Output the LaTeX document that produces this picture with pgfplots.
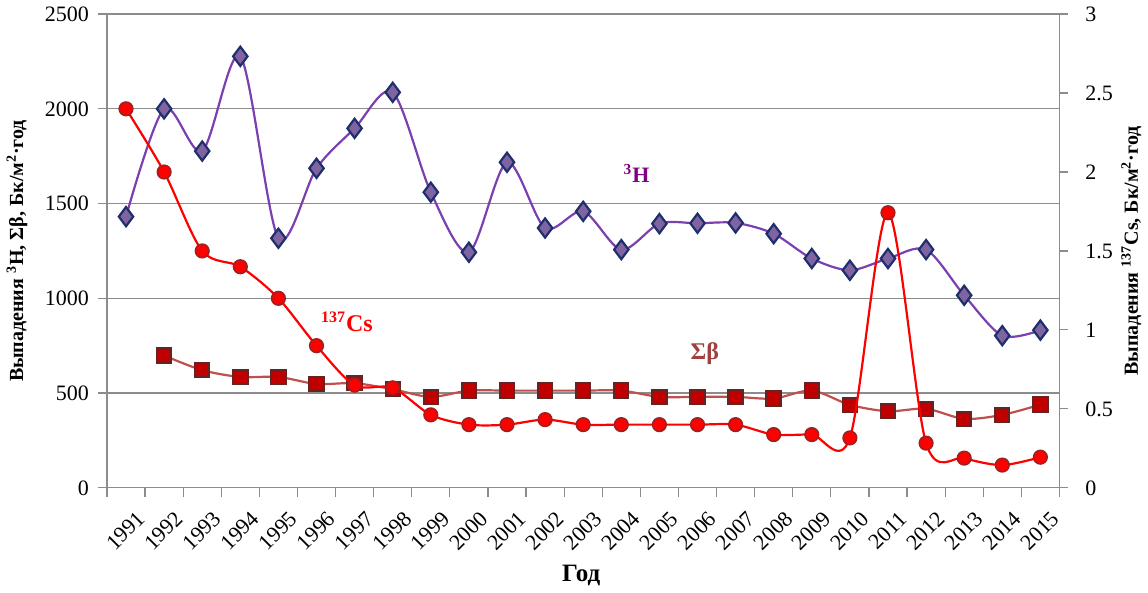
\documentclass[border=0pt]{standalone}
\usepackage{fontspec}
\setmainfont{Liberation Serif}
\usepackage{pgfplots}
\pgfplotsset{compat=1.18}
\usepackage{pgfplotstable}
\definecolor{hline}{HTML}{7B3FB0}
\definecolor{hfill}{HTML}{8064A2}
\definecolor{hedge}{HTML}{1F2F6B}
\definecolor{htext}{HTML}{800080}
\definecolor{bline}{HTML}{C0504D}
\definecolor{bfill}{HTML}{C00000}
\definecolor{bedge}{HTML}{632523}
\definecolor{btext}{HTML}{A0403F}
\definecolor{csfill}{HTML}{FF0000}
\definecolor{csedge}{HTML}{A02020}
\definecolor{gridc}{HTML}{8C8C8C}

\pgfplotstableread{
x H
0.5 1431
1.5 2000
2.5 1777
3.5 2277
4.5 1317
5.5 1686
6.5 1897
7.5 2087
8.5 1560
9.5 1243
10.5 1718
11.5 1371
12.5 1459
13.5 1257
14.5 1394
15.5 1396
16.5 1398
17.5 1341
18.5 1210
19.5 1148
20.5 1210
21.5 1257
22.5 1016
23.5 803
24.5 832
}\Htab

\pgfplotstableread{
x B
1.5 698
2.5 621
3.5 585
4.5 585
5.5 548
6.5 552
7.5 520
8.5 480
9.5 513
10.5 513
11.5 513
12.5 513
13.5 513
14.5 480
15.5 480
16.5 480
17.5 471
18.5 513
19.5 438
20.5 404
21.5 417
22.5 364
23.5 385
24.5 439
}\Btab

\pgfplotstableread{
x C
0.5 2.40
1.5 2.00
2.5 1.50
3.5 1.40
4.5 1.20
5.5 0.90
6.5 0.65
7.5 0.633
8.5 0.462
9.5 0.40
10.5 0.40
11.5 0.432
12.5 0.40
13.5 0.40
14.5 0.40
15.5 0.40
16.5 0.40
17.5 0.337
18.5 0.337
19.5 0.316
20.5 1.742
21.5 0.283
22.5 0.188
23.5 0.144
24.5 0.194
}\Ctab

\begin{document}
\begin{tikzpicture}
\pgfplotsset{
  base/.style={
    width=476.5pt, height=237pt, scale only axis,
    xmin=0, xmax=25,
    /pgf/number format/assume math mode=true,
    /pgf/number format/1000 sep={},
    tick label style={font=\fontsize{11}{12}\selectfont},
    label style={font=\fontsize{10}{12}\selectfont\bfseries},
    axis line style={gridc, line width=0.6pt},
    major tick style={gridc, line width=0.6pt},
    major tick length=4.5pt,
  }
}
\begin{axis}[base,
  axis y line*=left,
  axis x line*=bottom,
  ymin=0, ymax=2500,
  ytick={0,500,...,2500},
  ymajorgrids, grid style={gridc, line width=0.6pt},
  tick align=outside,
  xtick={0,...,25},
  x tick label as interval,
  xticklabels={1991,1992,1993,1994,1995,1996,1997,1998,1999,2000,2001,2002,2003,2004,2005,2006,2007,2008,2009,2010,2011,2012,2013,2014,2015},
  x tick label style={rotate=45, anchor=north east, inner sep=1pt, yshift=-7pt},
  xlabel={Год},
  xlabel style={at={(axis description cs:0.498,-0.186)}, anchor=center, font=\fontsize{12.5}{14}\selectfont\bfseries},
  ylabel={Выпадения \textsuperscript{3}Н, Σβ, Бк/м\textsuperscript{2}·год},
  ylabel style={at={(axis description cs:-0.0944,0.5)}, anchor=center},
  yticklabel style={xshift=-1pt},
  clip=false,
]
\addplot[hline, line width=1.1pt, smooth, tension=0.5, mark=diamond*, mark size=4.8pt,
  mark options={fill=hfill, draw=hedge, line width=1.1pt}] table[x=x,y=H]{\Htab};
\addplot[bline, line width=1.1pt, smooth, tension=0.5, mark=square*, mark size=3.6pt,
  mark options={fill=bfill, draw=bedge, line width=1.0pt}] table[x=x,y=B]{\Btab};
\node[text=htext, font=\fontsize{11}{12}\selectfont\bfseries] at (axis cs:13.9,1661) {\textsuperscript{3}H};
\node[text=csfill, font=\fontsize{12}{12}\selectfont\bfseries] at (axis cs:6.3,875) {\textsuperscript{137}Cs};
\node[text=btext, font=\fontsize{12}{12}\selectfont\bfseries] at (axis cs:15.69,707) {Σβ};
\end{axis}
\begin{axis}[base,
  axis y line*=right,
  axis x line=none,
  ymin=0, ymax=3,
  ytick={0,0.5,...,3},
  tick align=outside,
  yticklabel style={xshift=5pt},
  ylabel={Выпадения \textsuperscript{137}Cs, Бк/м\textsuperscript{2}·год},
  ylabel style={at={(axis description cs:1.0755,0.5)}, anchor=center, rotate=0},
  clip=false,
]
\addplot[csfill, line width=1.1pt, smooth, tension=0.5, mark=*, mark size=3.4pt,
  mark options={fill=csfill, draw=csedge, line width=0.8pt}] table[x=x,y=C]{\Ctab};
\end{axis}
\end{tikzpicture}
\end{document}
